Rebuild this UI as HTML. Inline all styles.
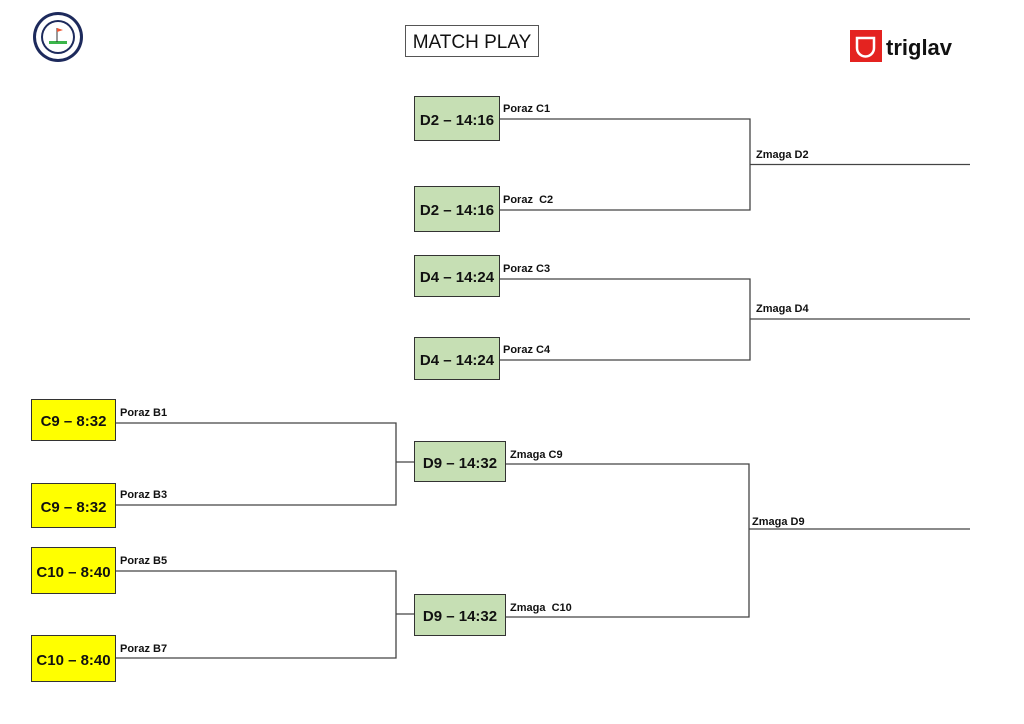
<!DOCTYPE html>
<html><head><meta charset="utf-8"><style>
html,body{margin:0;padding:0;background:#fff}
body{width:1024px;height:724px;position:relative;overflow:hidden;font-family:"Liberation Sans",sans-serif}
.b{position:absolute;box-sizing:border-box;border:1.3px solid #333;display:flex;align-items:center;justify-content:center;font-weight:bold;font-size:15px;color:#111;padding-top:3px}
.g{background:#c6dfb4}
.y{background:#ffff00}
.l{position:absolute;font-size:11px;font-weight:bold;color:#111;white-space:pre}
svg{position:absolute;left:0;top:0}
</style></head><body>
<svg width="1024" height="724">
<g stroke="#444" stroke-width="1.3" fill="none">
<path d="M500 119H750V210H500M750 164.5H970"/>
<path d="M500 279H750V360H500M750 319H970"/>
<path d="M116 423H396V505H116M396 462H414"/>
<path d="M116 571H396V658H116M396 614H414"/>
<path d="M506 464H749V617H506M749 529H970"/>
</g>
<circle cx="58" cy="37" r="25" fill="#1d2a5c"/>
<circle cx="58" cy="37" r="22" fill="#fff"/>
<circle cx="58" cy="37" r="17" fill="#1d2a5c"/>
<circle cx="58" cy="37" r="15" fill="#fff"/>
<rect x="49" y="41" width="18" height="3" fill="#3bb54a"/>
<line x1="57" y1="28" x2="57" y2="42" stroke="#333" stroke-width="1"/>
<path d="M57 28L63 30L57 32Z" fill="#e53"/>
<rect x="850" y="30" width="32" height="32" fill="#e42320"/>
<path d="M857 38H874V48A8 8 0 0 1 857 48Z" fill="none" stroke="#fff" stroke-width="2.5"/>
<text x="886" y="55" font-family="Liberation Sans,sans-serif" font-weight="bold" font-size="22" fill="#111">triglav</text>
</svg>
<div style="position:absolute;left:405px;top:25px;width:134px;height:32px;box-sizing:border-box;border:1px solid #555;font-size:19px;display:flex;align-items:center;justify-content:center;color:#111;padding-top:3px">MATCH PLAY</div>

<div class="b g" style="left:414px;top:96px;width:86px;height:45px">D2 – 14:16</div>
<div class="b g" style="left:414px;top:186px;width:86px;height:46px">D2 – 14:16</div>
<div class="b g" style="left:414px;top:255px;width:86px;height:42px">D4 – 14:24</div>
<div class="b g" style="left:414px;top:337px;width:86px;height:43px">D4 – 14:24</div>
<div class="b g" style="left:414px;top:441px;width:92px;height:41px">D9 – 14:32</div>
<div class="b g" style="left:414px;top:594px;width:92px;height:42px">D9 – 14:32</div>

<div class="b y" style="left:31px;top:399px;width:85px;height:42px">C9 – 8:32</div>
<div class="b y" style="left:31px;top:483px;width:85px;height:45px">C9 – 8:32</div>
<div class="b y" style="left:31px;top:547px;width:85px;height:47px">C10 – 8:40</div>
<div class="b y" style="left:31px;top:635px;width:85px;height:47px">C10 – 8:40</div>

<div class="l" style="left:503px;top:103px">Poraz C1</div>
<div class="l" style="left:503px;top:194px">Poraz  C2</div>
<div class="l" style="left:503px;top:263px">Poraz C3</div>
<div class="l" style="left:503px;top:344px">Poraz C4</div>
<div class="l" style="left:756px;top:149px">Zmaga D2</div>
<div class="l" style="left:756px;top:303px">Zmaga D4</div>
<div class="l" style="left:120px;top:407px">Poraz B1</div>
<div class="l" style="left:120px;top:489px">Poraz B3</div>
<div class="l" style="left:120px;top:555px">Poraz B5</div>
<div class="l" style="left:120px;top:643px">Poraz B7</div>
<div class="l" style="left:510px;top:449px">Zmaga C9</div>
<div class="l" style="left:510px;top:602px">Zmaga  C10</div>
<div class="l" style="left:752px;top:516px">Zmaga D9</div>
</body></html>
